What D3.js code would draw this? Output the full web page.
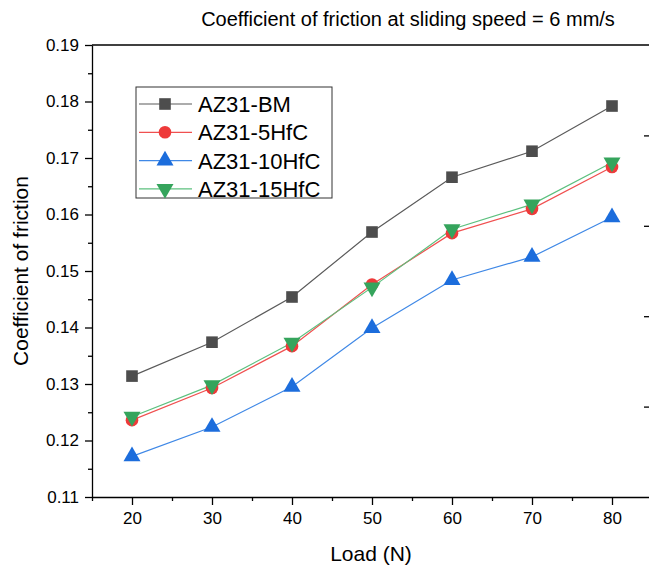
<!DOCTYPE html>
<html>
<head>
<meta charset="utf-8">
<script src="https://cdn.jsdelivr.net/npm/d3@7"></script>
<style>
  body { margin: 0; background: #fff; }
  svg { display: block; font-family: Arial, "Liberation Sans", sans-serif; }
  .axis path, .axis line { stroke: #000; stroke-width: 1.3; }
  .axis text { font-size: 17px; fill: #000; }
</style>
</head>
<body>
<svg id="chart"></svg>
<script>
var loads = [20, 30, 40, 50, 60, 70, 80];
var seriesNames = ["AZ31-BM", "AZ31-5HfC", "AZ31-10HfC", "AZ31-15HfC"];
var bm     = [0.1314, 0.1374, 0.1454, 0.1569, 0.1666, 0.1712, 0.1792];
var hfc5   = [0.1236, 0.1293, 0.1367, 0.1476, 0.1567, 0.1610, 0.1684];
var hfc10  = [0.1172, 0.1224, 0.1295, 0.1399, 0.1484, 0.1525, 0.1595];
var hfc15  = [0.1242, 0.1298, 0.1373, 0.1471, 0.1574, 0.1618, 0.1692];
var yTicks = [0.11, 0.12, 0.13, 0.14, 0.15, 0.16, 0.17, 0.18, 0.19];
var xTicks = [20, 30, 40, 50, 60, 70, 80];

var width = 649, height = 569;
var margin = {top: 45, right: -3, bottom: 72, left: 92};
var w = width - margin.left - margin.right,
    h = height - margin.top - margin.bottom;

var series = [
  {name: seriesNames[0], values: bm,    line: "#5a5a5a", fill: "#4d4d4d", shape: d3.symbolSquare,   size: 135, rot: 0},
  {name: seriesNames[1], values: hfc5,  line: "#f05050", fill: "#ee3a3a", shape: d3.symbolCircle,   size: 125, rot: 0},
  {name: seriesNames[2], values: hfc10, line: "#3f88e6", fill: "#1c6ddc", shape: d3.symbolTriangle, size: 125, rot: 0},
  {name: seriesNames[3], values: hfc15, line: "#5cc07e", fill: "#35a45c", shape: d3.symbolTriangle, size: 125, rot: 180}
];

var svg = d3.select("#chart").attr("width", width).attr("height", height);
var g = svg.append("g").attr("transform", "translate(" + margin.left + "," + margin.top + ")");

var x = d3.scaleLinear().domain([15, 85]).range([0, w]);
var y = d3.scaleLinear().domain([0.11, 0.19]).range([h, 0]);
var yR = d3.scaleLinear().domain([0, 5]).range([h, 0]);

// frame top
g.append("line").attr("x1", 0).attr("x2", w).attr("y1", 0).attr("y2", 0)
  .attr("stroke", "#000").attr("stroke-width", 1.3);

// minor ticks
g.append("g").attr("class", "axis")
  .attr("transform", "translate(0," + h + ")")
  .call(d3.axisBottom(x).tickValues(d3.range(15, 86, 10)).tickSize(4).tickFormat(""))
  .select(".domain").remove();
g.append("g").attr("class", "axis")
  .call(d3.axisLeft(y).tickValues(d3.range(0.115, 0.19, 0.01)).tickSize(4).tickFormat(""))
  .select(".domain").remove();
g.append("g").attr("class", "axis")
  .attr("transform", "translate(" + w + ",0)")
  .call(d3.axisLeft(yR).tickValues(d3.range(0.5, 5, 1)).tickSize(-5).tickFormat(""))
  .select(".domain").remove();

// major axes
g.append("g").attr("class", "axis")
  .attr("transform", "translate(0," + h + ")")
  .call(d3.axisBottom(x).tickValues(xTicks).tickSize(8).tickPadding(7).tickSizeOuter(0));
g.append("g").attr("class", "axis")
  .call(d3.axisLeft(y).tickValues(yTicks).tickSize(7).tickPadding(6).tickFormat(d3.format(".2f")).tickSizeOuter(0));
g.append("g").attr("class", "axis")
  .attr("transform", "translate(" + w + ",0)")
  .call(d3.axisLeft(yR).tickValues([1, 2, 3, 4]).tickSize(8).tickFormat("").tickSizeOuter(0))
  .selectAll(".tick line").attr("x2", -8);

// lines + markers
var line = d3.line().x(function(d, i) { return x(loads[i]); }).y(function(d) { return y(d); });

series.forEach(function(s) {
  g.append("path").datum(s.values)
    .attr("fill", "none").attr("stroke", s.line).attr("stroke-width", 1.2)
    .attr("d", line);
});
series.forEach(function(s) {
  g.selectAll(null).data(s.values).enter().append("path")
    .attr("d", d3.symbol().type(s.shape).size(s.size))
    .attr("transform", function(d, i) {
      return "translate(" + x(loads[i]) + "," + y(d) + ") rotate(" + s.rot + ")";
    })
    .attr("fill", s.fill);
});

// legend
var leg = svg.append("g").attr("transform", "translate(136,87)");
leg.append("rect").attr("width", 196).attr("height", 111)
  .attr("fill", "#fff").attr("stroke", "#333").attr("stroke-width", 1);
series.forEach(function(s, i) {
  var ly = 17 + i * 28.3;
  leg.append("line").attr("x1", 3).attr("x2", 56).attr("y1", ly).attr("y2", ly)
    .attr("stroke", s.line).attr("stroke-width", 1.2);
  leg.append("path")
    .attr("d", d3.symbol().type(s.shape).size(s.size))
    .attr("transform", "translate(29," + ly + ") rotate(" + s.rot + ")")
    .attr("fill", s.fill);
  leg.append("text").attr("x", 62).attr("y", ly).attr("dy", "0.36em")
    .style("font-size", "22px").text(s.name);
});

// titles
svg.append("text").attr("x", 408).attr("y", 26).attr("text-anchor", "middle")
  .style("font-size", "20px").text("Coefficient of friction at sliding speed = 6 mm/s");
svg.append("text").attr("x", 371).attr("y", 561).attr("text-anchor", "middle")
  .style("font-size", "21px").text("Load (N)");
svg.append("text").attr("transform", "translate(28,271) rotate(-90)").attr("text-anchor", "middle")
  .style("font-size", "21px").text("Coefficient of friction");
</script>
</body>
</html>
